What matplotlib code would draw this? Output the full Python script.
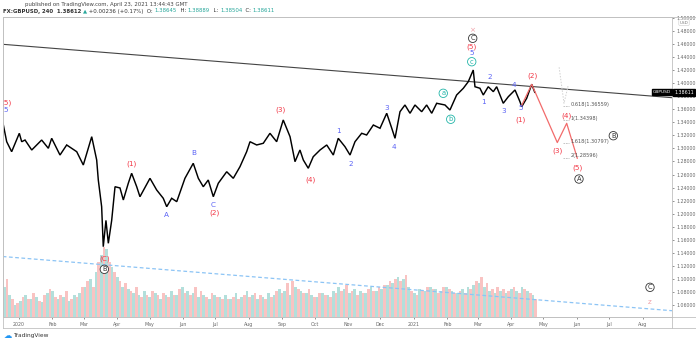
import numpy as np
import matplotlib
matplotlib.use("Agg")
import matplotlib.pyplot as plt
from datetime import date

# ---------------- data (x = days since 2020-01-01) ----------------
price_day = [-14.8, -11.4, -6.8, 0.3, 2.5, 5.6, 11.8, 21.0, 27.2, 30.3, 38.0, 44.2, 53.5, 59.6,
             67.4, 72.0, 73.5, 76.6, 78.1, 80.6, 82.8, 85.9, 89.0, 93.6, 96.7, 101.3, 104.4, 109.1,
             112.1, 121.4, 127.6, 133.7, 136.9, 141.5, 146.2, 153.8, 161.5, 166.2, 170.8, 175.4,
             180.1, 184.7, 192.5, 198.6, 204.8, 211.0, 214.1, 220.3, 226.4, 232.6, 238.8, 244.9,
             251.2, 255.8, 260.4, 263.5, 268.1, 272.7, 279.0, 285.2, 291.3, 295.9, 302.1, 306.8,
             311.4, 317.6, 322.2, 328.4, 334.6, 340.8, 345.4, 348.5, 353.1, 357.7, 362.4, 367.0,
             373.2, 377.8, 382.5, 387.1, 394.8, 399.4, 405.6, 411.8, 416.4, 421.0, 422.6, 427.2,
             430.3, 434.9, 439.6, 442.7, 448.8, 453.5, 459.7, 464.3, 465.9, 470.5, 475.2, 478.0]
price_close = [1.3385, 1.3103, 1.2950, 1.3232, 1.3103, 1.3129, 1.2976, 1.3129, 1.3002, 1.3155,
               1.2899, 1.3053, 1.2950, 1.2746, 1.3180, 1.2823, 1.2516, 1.2107, 1.1494, 1.1897,
               1.1546, 1.1897, 1.2413, 1.2394, 1.2210, 1.2466, 1.2619, 1.2413, 1.2260, 1.2542,
               1.2363, 1.2236, 1.2107, 1.2236, 1.2184, 1.2542, 1.2772, 1.2542, 1.2413, 1.2516,
               1.2260, 1.2466, 1.2643, 1.2542, 1.2720, 1.2950, 1.3103, 1.3053, 1.3079, 1.3232,
               1.3103, 1.3436, 1.3180, 1.2797, 1.2976, 1.2823, 1.2696, 1.2873, 1.2976, 1.3053,
               1.2899, 1.3155, 1.3027, 1.2899, 1.3103, 1.3232, 1.3206, 1.3359, 1.3309, 1.3539,
               1.3313, 1.3155, 1.3563, 1.3666, 1.3539, 1.3666, 1.3563, 1.3666, 1.3539, 1.3692,
               1.3666, 1.3589, 1.3819, 1.3922, 1.4023, 1.4202, 1.3946, 1.3922, 1.3819, 1.3946,
               1.3870, 1.3946, 1.3692, 1.3793, 1.3896, 1.3716, 1.3640, 1.3768, 1.3983, 1.3861]

# projected wave path (red)
proj_day = [465.9, 475.2, 498.9, 507.6, 517.4]
proj_price = [1.3660, 1.3983, 1.3090, 1.3385, 1.2850]

# fibonacci extension levels
fib_names = ["0.618", "1", "1.618", "2"]
fib_levels = [1.36559, 1.34398, 1.30797, 1.28596]
fib_day = 505.0

# faint fib tool guide (grey dotted)
guide_day = [500.6, 505.1, 509.1]
guide_price = [1.4244, 1.3692, 1.3972]

# trend lines: two anchor points each
resist_day = [-15.0, 605.0]
resist_price = [1.4596, 1.3778]
support_day = [-15.0, 605.0]
support_price = [1.1343, 1.0513]

# volume (every 5 days from day -15), up / down
vol_up = [30, 22, 12, 16, 22, 18, 20, 15, 24, 26, 18, 20, 16, 22, 24, 30, 38, 45, 62, 68,
          50, 40, 30, 28, 24, 22, 26, 20, 24, 18, 22, 26, 22, 30, 26, 24, 20, 22, 18, 22,
          20, 22, 18, 24, 20, 26, 22, 18, 20, 24, 22, 28, 26, 22, 30, 26, 24, 22, 20, 24,
          22, 26, 30, 28, 24, 28, 26, 24, 30, 26, 28, 32, 34, 40, 38, 30, 24, 28, 26, 30,
          28, 26, 30, 26, 24, 28, 30, 32, 34, 30, 26, 24, 26, 24, 28, 26, 30, 26, 22]
vol_down = [38, 18, 14, 20, 18, 24, 16, 22, 28, 20, 22, 26, 18, 20, 30, 36, 30, 55, 70, 55,
            45, 36, 34, 26, 30, 20, 22, 26, 22, 24, 20, 22, 28, 24, 22, 30, 26, 20, 24, 20,
            18, 18, 20, 18, 22, 20, 24, 22, 18, 20, 26, 24, 34, 36, 28, 24, 28, 20, 24, 22,
            20, 24, 26, 32, 26, 22, 24, 28, 26, 30, 32, 36, 38, 36, 42, 26, 22, 26, 30, 28,
            24, 30, 28, 24, 26, 24, 28, 36, 40, 34, 28, 30, 28, 26, 30, 24, 28, 24, 18]
vol_start, vol_step = -15, 5

# wave labels: text, day, price, colour, circled
RED, BLUE, TEAL, BLK = "#f23645", "#5b63f5", "#22b5a8", "#333333"
labels = [
    ("(5)", -11.5, 1.3700, RED, False), ("5", -12.5, 1.3590, BLUE, False),
    ("(1)", 104.4, 1.2772, RED, False), ("A", 136.9, 1.1980, BLUE, False),
    ("B", 161.5, 1.2935, BLUE, False), ("C", 180.1, 1.2133, BLUE, False),
    ("(2)", 181.6, 1.2021, RED, False), ("(3)", 242.8, 1.3600, RED, False),
    ("(4)", 270.6, 1.2527, RED, False), ("1", 295.9, 1.3267, BLUE, False),
    ("2", 307.4, 1.2757, BLUE, False), ("3", 340.8, 1.3624, BLUE, False),
    ("4", 347.8, 1.3027, BLUE, False), ("a", 393.2, 1.3845, TEAL, True),
    ("b", 400.1, 1.3447, TEAL, True), ("c", 419.6, 1.4329, TEAL, True),
    ("5", 419.6, 1.4467, BLUE, False), ("(5)", 419.6, 1.4559, RED, False),
    ("C", 420.5, 1.4688, BLK, True), ("×", 420.5, 1.4815, "#f0a0a8", False),
    ("1", 430.3, 1.3716, BLUE, False), ("2", 436.5, 1.4090, BLUE, False),
    ("3", 448.8, 1.3574, BLUE, False), ("4", 459.0, 1.3972, BLUE, False),
    ("5", 465.2, 1.3615, BLUE, False), ("(1)", 465.2, 1.3436, RED, False),
    ("(2)", 475.7, 1.4115, RED, False), ("(3)", 498.9, 1.2965, RED, False),
    ("(4)", 507.6, 1.3502, RED, False), ("(5)", 517.8, 1.2711, RED, False),
    ("A", 519.0, 1.2531, BLK, True), ("B", 550.8, 1.3195, BLK, True),
    ("C", 584.8, 1.0871, BLK, True), ("z", 584.8, 1.0651, "#f0a0a8", False),
    ("(C)", 79.1, 1.1305, RED, False), ("B", 79.1, 1.1147, BLK, True),
]

month_labels = ["2020", "Feb", "Mar", "Apr", "May", "Jun", "Jul", "Aug", "Sep", "Oct", "Nov",
                "Dec", "2021", "Feb", "Mar", "Apr", "May", "Jun", "Jul", "Aug"]
month_dates = [date(2020, m, 1) for m in range(1, 13)] + [date(2021, m, 1) for m in range(1, 9)]
price_ticks = [round(1.06 + 0.02 * i, 2) for i in range(23)]
last_price = 1.38611

# ---------------- figure ----------------
W, H, DPI = 696, 341, 100
fig = plt.figure(figsize=(W / DPI, H / DPI), dpi=DPI)
plt.rcParams["font.family"] = ["DejaVu Sans"]

L, R, T, B = 2.7, 672.0, 16.5, 317.0
ax = fig.add_axes([L / W, 1 - B / H, (R - L) / W, (B - T) / H])
ax.set_xlim(-15.1, 605.2)
ax.set_ylim(1.04162, 1.50222)

# volume on overlay axis
vax = ax.twinx()
vax.set_ylim(0, 300.5)
n = min(len(vol_up), len(vol_down))
vdays = vol_start + vol_step * np.arange(n)
vax.bar(vdays + 1.25, vol_up[:n], width=2.5, color="#26a69a", alpha=0.35, linewidth=0)
vax.bar(vdays + 3.75, vol_down[:n], width=2.5, color="#ef5350", alpha=0.35, linewidth=0)
vax.set_yticks([])
for s in vax.spines.values():
    s.set_visible(False)
ax.set_zorder(vax.get_zorder() + 1)
ax.patch.set_visible(False)

# trend lines
ax.axline((resist_day[0], resist_price[0]), (resist_day[1], resist_price[1]),
          color="#444444", lw=0.8)
ax.axline((support_day[0], support_price[0]), (support_day[1], support_price[1]),
          color="#8cc4f5", lw=0.9, ls=(0, (3, 2)))

# price
ax.plot(price_day, price_close, color="black", lw=1.05, solid_joinstyle="miter")

# projection
ax.plot(proj_day, proj_price, color="#f26b6b", lw=0.9)
ax.plot(guide_day, guide_price, color="#d0d0d0", lw=0.7, ls=(0, (1.5, 1.5)))
for nm, lv in zip(fib_names, fib_levels):
    ax.plot([fib_day - 1, fib_day + 5], [lv, lv], color="#bbbbbb", lw=0.6, ls=(0, (2, 1)))
    ax.text(fib_day + 6, lv + 0.0025, f"{nm}({lv:.5f})", fontsize=3.6, color="#555555",
            ha="left", va="center")

# wave labels
for txt, d, p, c, circ in labels:
    kw = dict(fontsize=5.2, color=c, ha="center", va="center", clip_on=True)
    if circ:
        kw["bbox"] = dict(boxstyle="circle,pad=0.18", fc="white", ec=c, lw=0.6)
        kw["fontsize"] = 4.8
    ax.text(d, p, txt, **kw)

# axes styling
ax.yaxis.tick_right()
ax.set_yticks(price_ticks)
ax.set_yticklabels([f"{t:.5f}" for t in price_ticks])
d0 = date(2020, 1, 1)
ax.set_xticks([(m - d0).days for m in month_dates])
ax.set_xticklabels(month_labels)
ax.tick_params(axis="both", labelsize=3.4, colors="#666666", length=1.5, width=0.5, pad=1.5)
ax.tick_params(axis="x", pad=2)
for s in ax.spines.values():
    s.set_color("#c0c0c0")
    s.set_linewidth(0.6)

# frame lines outside the plot
def fline(x0, y0, x1, y1):
    fig.add_artist(plt.Line2D([x0 / W, x1 / W], [1 - y0 / H, 1 - y1 / H],
                              color="#c0c0c0", lw=0.6))
fline(L, T, W - 0.5, T)
fline(L, B, W - 0.5, B)
fline(L, 328, W - 0.5, 328)
fline(L, T, L, 328)
fline(R, B, R, 328)

# last price boxes
ylp = 1 - (31 + (1.48 - last_price) * 652.4) / H
fig.text(684 / W, ylp, f"{last_price:.5f}", fontsize=3.4, color="white", ha="center",
         va="center", bbox=dict(boxstyle="square,pad=0.25", fc="black", ec="black"), zorder=20)
fig.text(662 / W, ylp, "GBPUSD", fontsize=3.2, color="white", ha="center", va="center",
         bbox=dict(boxstyle="square,pad=0.25", fc="black", ec="black"), zorder=20)
fig.text(684 / W, 1 - 22.5 / H, "USD", fontsize=3.0, color="#777777", ha="center", va="center",
         bbox=dict(boxstyle="round,pad=0.2", fc="white", ec="#cccccc", lw=0.4), zorder=20)

# header
fig.text(25 / W, 1 - 4.5 / H, "published on TradingView.com, April 23, 2021 13:44:43 GMT",
         fontsize=3.9, color="#444444", ha="left", va="center")
parts = [("FX:GBPUSD, 240  1.38612 ", "#333333"), ("▲", "#26a69a"),
         (" +0.00236 (+0.17%)  O: ", "#333333"), ("1.38645", "#26a69a"),
         ("  H: ", "#333333"), ("1.38889", "#26a69a"), ("  L: ", "#333333"),
         ("1.38504", "#26a69a"), ("  C: ", "#333333"), ("1.38611", "#26a69a")]
prev = fig.text(3 / W, 1 - 11 / H, parts[0][0], fontsize=3.9, color=parts[0][1],
                ha="left", va="center", fontweight="bold")
for s, c in parts[1:]:
    prev = ax.annotate(s, xy=(1, 0), xycoords=prev, ha="left", va="bottom", fontsize=3.9,
                       color=c, annotation_clip=False)

# logo
fig.text(4 / W, 1 - 335 / H, "☁", fontsize=6, color="#2196f3", ha="left", va="center")
fig.text(13 / W, 1 - 335 / H, "TradingView", fontsize=4.2, color="#333333", ha="left",
         va="center")

fig.savefig("out.png", dpi=DPI)
